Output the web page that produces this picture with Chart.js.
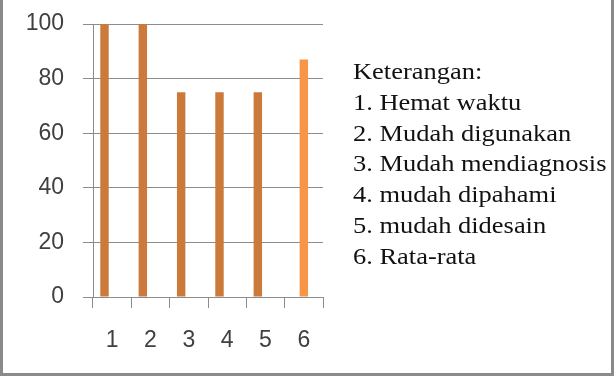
<!DOCTYPE html>
<html>
<head>
<meta charset="utf-8">
<script src="https://cdn.jsdelivr.net/npm/chart.js@4"></script>
<style>
  body { margin: 0; background: #fff; }
  #wrap { position: relative; width: 614px; height: 376px; }
  #frame { position: absolute; left: 0; top: 0; width: 608px; height: 373px;
           border-left: 3px solid #8a8a8a; border-right: 3px solid #8a8a8a; border-bottom: 3px solid #8a8a8a; }
  #keterangan { position: absolute; left: 353px; top: 57px; font-family: "Liberation Serif", serif;
                font-size: 23px; line-height: 30.8px; color: #111; white-space: nowrap;
                transform: scaleX(1.15); transform-origin: 0 0; }
</style>
</head>
<body>
<div id="wrap">
  <canvas id="chart" width="614" height="376"></canvas>
  <div id="keterangan"></div>
  <div id="frame"></div>
</div>
<script>
const categories = ["1", "2", "3", "4", "5", "6"];
const kriteriaValues = [100, 100, 75, 75, 75, null];
const rataRataValues = [null, null, null, null, null, 87];
const emptySeries = [null, null, null, null, null, null];
const yTicks = [0, 20, 40, 60, 80, 100];
const keterangan = [
  "Keterangan:",
  "1. Hemat waktu",
  "2. Mudah digunakan",
  "3. Mudah mendiagnosis",
  "4. mudah dipahami",
  "5. mudah didesain",
  "6. Rata-rata"
];

document.getElementById("keterangan").innerHTML = keterangan.map(t => `<div>${t}</div>`).join("");

const gridColor = "#8c8c8c";
const tickFont = { family: "Liberation Sans", size: 23 };

new Chart(document.getElementById("chart"), {
  type: "bar",
  data: {
    labels: categories,
    datasets: [
      { label: "Kriteria", data: kriteriaValues, backgroundColor: "#CB7A3C" },
      { label: "Rata-rata", data: rataRataValues, backgroundColor: "#F79646" },
      { label: "", data: emptySeries, backgroundColor: "#F79646" }
    ]
  },
  options: {
    responsive: false,
    animation: false,
    categoryPercentage: 0.6,
    barPercentage: 1.1,
    layout: { padding: { top: 24, right: 291, left: 0, bottom: 0 } },
    plugins: { legend: { display: false }, tooltip: { enabled: false } },
    scales: {
      y: {
        min: 0,
        max: 100,
        afterBuildTicks: axis => { axis.ticks = yTicks.map(v => ({ value: v })); },
        afterFit: axis => { axis.width = 93; axis.paddingTop = 0; axis.paddingBottom = 0; },
        ticks: { color: "#404040", font: tickFont, padding: 19 },
        grid: { color: gridColor, tickLength: 10, lineWidth: 1 },
        border: { display: true, color: gridColor }
      },
      x: {
        afterFit: axis => { axis.height = 79; axis.paddingLeft = 0; axis.paddingRight = 0; },
        ticks: { color: "#404040", font: tickFont, padding: 19, maxRotation: 0 },
        grid: { display: true, drawOnChartArea: false, offset: true, color: gridColor, tickLength: 11 },
        border: { display: true, color: gridColor }
      }
    }
  }
});
</script>
</body>
</html>
